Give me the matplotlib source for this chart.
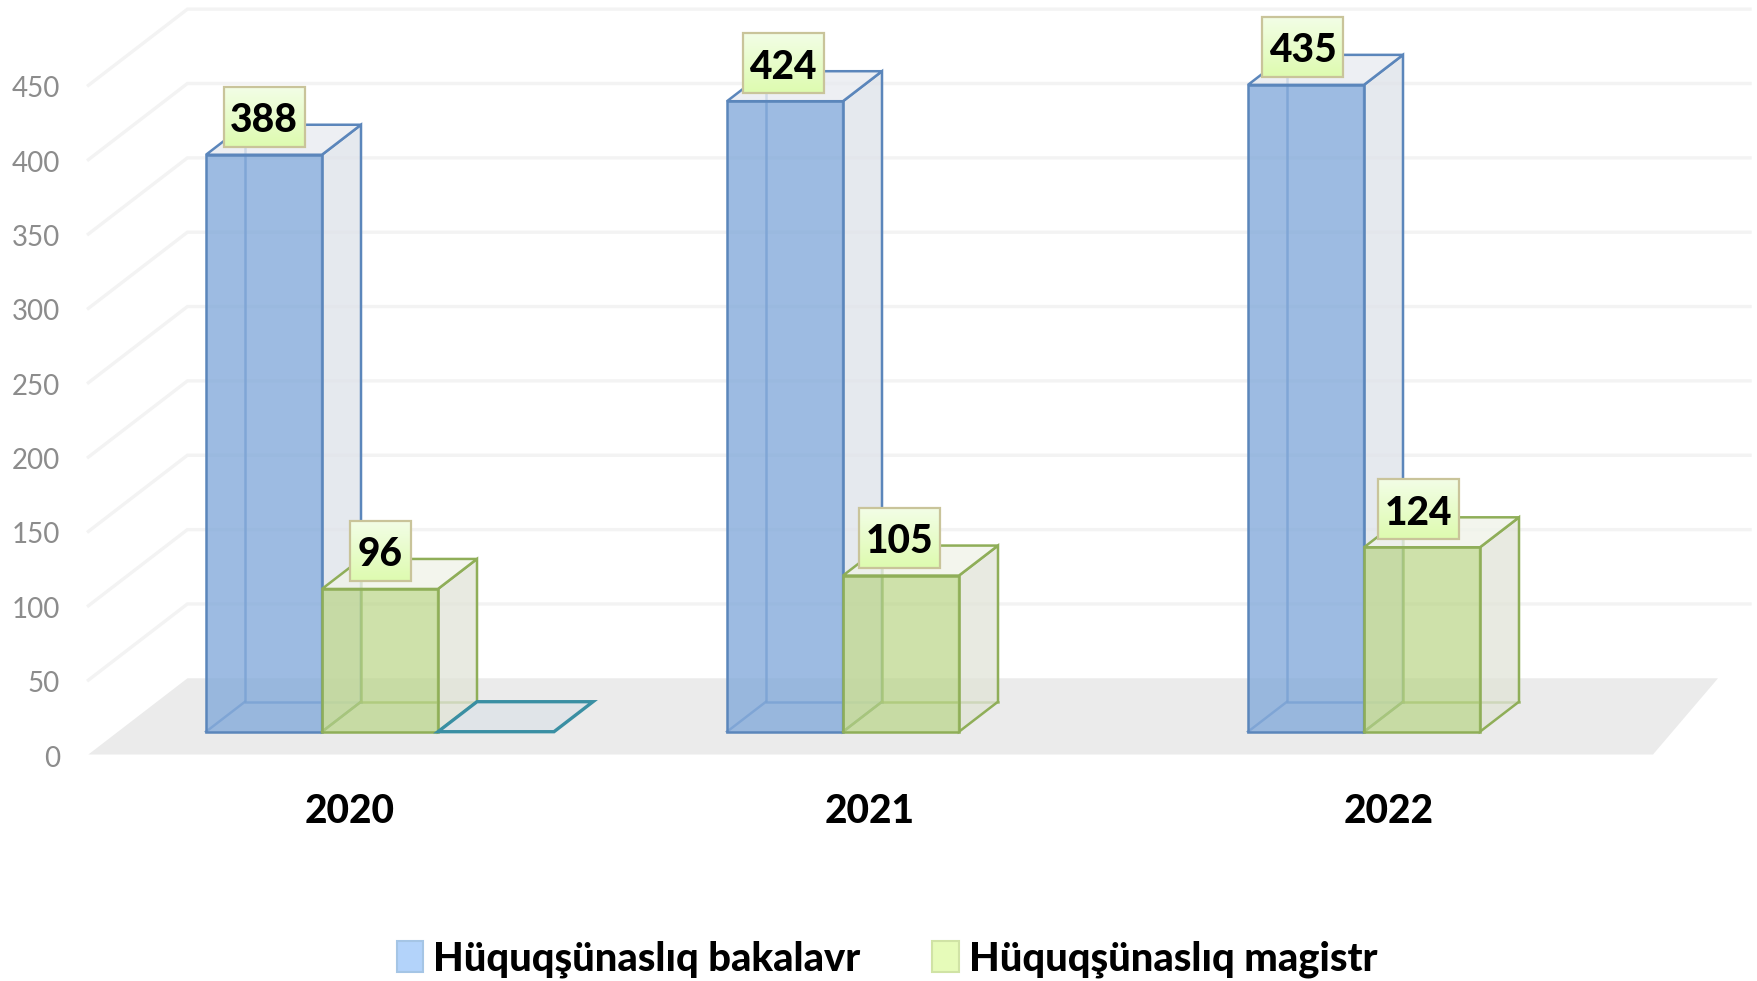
import matplotlib
matplotlib.use('Agg')
import matplotlib.pyplot as plt
from matplotlib.patches import Patch, Rectangle
import numpy as np

plt.rcParams['font.family'] = ['Lato', 'DejaVu Sans']

years = ['2020', '2021', '2022']
bakalavr = [388, 424, 435]
magistr = [96, 105, 124]
third_series = [0, None, None]  # only the empty bar in 2020 is visible
tick_values = [0, 50, 100, 150, 200, 250, 300, 350, 400, 450]
legend_names = ['Hüquqşünaslıq bakalavr', 'Hüquqşünaslıq magistr']

W, H = 1757, 981
# px sizes of one category step and one value unit
PX_CAT = 521.0
PX_VAL = 1.487
X0 = 380.0  # px of category 0 centre
Y0 = 731.7  # px of value 0 at the bar front

BAR_W = 116 / PX_CAT
DX = 39 / PX_CAT
DY = 30 / PX_VAL

fig = plt.figure(figsize=(W / 100, H / 100), dpi=100)
ax = fig.add_axes([0, 0, 1, 1])
ax.set_xlim(-X0 / PX_CAT, (W - X0) / PX_CAT)
ax.set_ylim((Y0 - H) / PX_VAL, Y0 / PX_VAL)
ax.axis('off')

# floor and walls sit around the bars, in bar depth units
FRONT = -0.76
BACK = 1.78
wall_left = (118 - X0) / PX_CAT
floor_right = (1653 - X0) / PX_CAT
floor_right_back = (1718 - X0) / PX_CAT
grid_right = (1750 - X0) / PX_CAT


def wall_pt(x, v, depth):
    return x + DX * depth, v + DY * depth


# gridlines
for v in tick_values[1:]:
    x1, y1 = wall_pt(wall_left, v, FRONT)
    x2, y2 = wall_pt(wall_left, v, BACK)
    ax.plot([x1, x2, grid_right], [y1, y2, y2], color='#f3f3f3', lw=2.4, zorder=1,
            solid_joinstyle='miter')

# floor
x1, y1 = wall_pt(wall_left, 0, FRONT)
x2, y2 = wall_pt(wall_left, 0, BACK)
ax.fill([x1, floor_right, floor_right_back, x2], [y1, y1, y2, y2], color='#ebebeb', lw=0, zorder=2)


def box3d(x, v, front, side, top, edge, z):
    r = x + BAR_W
    # back lines seen through the front face
    ax.plot([x + DX, x + DX, x + DX + BAR_W], [v + DY, DY, DY], color=edge, lw=1.8, alpha=.8, zorder=z)
    ax.plot([x, x + DX], [0, DY], color=edge, lw=1.8, alpha=.8, zorder=z)
    ax.fill([r, r + DX, r + DX, r], [0, DY, v + DY, v], facecolor=side, edgecolor=edge, lw=1.8, zorder=z)
    ax.fill([x, r, r + DX, x + DX], [v, v, v + DY, v + DY], facecolor=top, edgecolor=edge, lw=1.8, zorder=z)
    ax.fill([x, r, r, x], [0, 0, v, v], facecolor=front, edgecolor=edge, lw=1.8, zorder=z)


for i in range(len(years)):
    xb = i - 1.5 * BAR_W
    box3d(xb, bakalavr[i], '#82a9dac8', '#dfe3eac8', '#e8ebf0c8', '#5b86bb', 3)
    box3d(xb + BAR_W, magistr[i], '#b8d484b0', '#e0e3d6b8', '#f0f3e9c8', '#8fae58', 4)
    if third_series[i] is not None:
        x = xb + 2 * BAR_W
        ax.fill([x, x + BAR_W, x + BAR_W + DX, x + DX], [0, 0, DY, DY],
                facecolor='#e0e4e8', edgecolor='#3a8fa3', lw=2.4, zorder=4)


def value_label(x, v, text):
    w = (81 if len(text) == 3 else 61) / PX_CAT
    h = 60 / PX_VAL
    yc = v + 38 / PX_VAL
    grad = np.linspace(0, 1, 32).reshape(-1, 1)
    c1 = np.array([0.95, 0.995, 0.90])
    c2 = np.array([0.87, 0.985, 0.69])
    img = c1 + (c2 - c1) * grad[..., None]
    ax.imshow(img, extent=[x - w / 2, x + w / 2, yc - h / 2, yc + h / 2], aspect='auto', origin='upper', zorder=6)
    ax.add_patch(Rectangle((x - w / 2, yc - h / 2), w, h, fill=False, edgecolor='#c9c49a', lw=1.6, zorder=7))
    ax.text(x, yc - 4 / PX_VAL, text, ha='center', va='center', fontsize=28, fontweight=900, color='black', zorder=8)


for i in range(len(years)):
    xb = i - 1.5 * BAR_W - i * 1.8 / PX_CAT
    value_label(xb + BAR_W / 2, bakalavr[i], str(bakalavr[i]))
    value_label(xb + 1.5 * BAR_W, magistr[i], str(magistr[i]))

ax.set_xlim(-X0 / PX_CAT, (W - X0) / PX_CAT)
ax.set_ylim((Y0 - H) / PX_VAL, Y0 / PX_VAL)

# value axis labels are on the front plane of the left wall
for v in tick_values:
    ax.text((60 - X0) / PX_CAT, v + DY * FRONT - 4 / PX_VAL, str(v), ha='right', va='center',
            fontsize=20, color='#8c8c8c')

# category labels
for i, y in enumerate(years):
    ax.text(i - (30 + i * 1.8) / PX_CAT, -80 / PX_VAL, y, ha='center', va='center', fontsize=28, fontweight=900)

handles = [Patch(facecolor='#b3d3fa', edgecolor='#a5c5e5', lw=1.5),
           Patch(facecolor='#e6fbb9', edgecolor='#d0e3a5', lw=1.5)]
ax.legend(handles, legend_names, ncol=2, frameon=False, loc='center',
          bbox_to_anchor=(887 / W, 1 - 959 / H), bbox_transform=fig.transFigure,
          prop={'size': 28.7, 'weight': 900}, handlelength=0.66, handleheight=0.8,
          handletextpad=0.25, columnspacing=1.8)

fig.savefig('out.png', dpi=100)
